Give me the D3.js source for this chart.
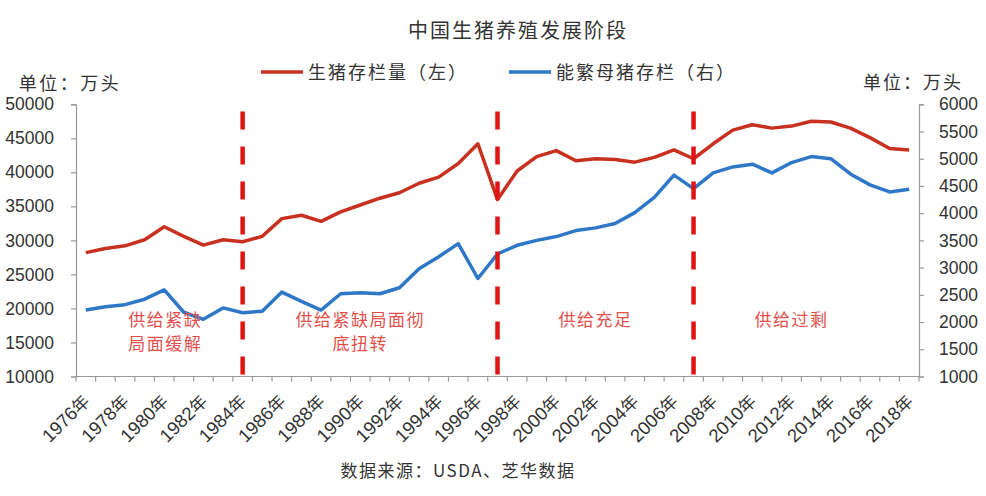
<!DOCTYPE html>
<html><head><meta charset="utf-8">
<script src="https://cdn.jsdelivr.net/npm/d3@7"></script>
<style>
html,body{margin:0;padding:0;background:#fff;}
svg{display:block;}
</style></head>
<body>
<svg id="chart" width="986" height="496"></svg>
<script>
const years = d3.range(1976, 2019).map(String);
const hogStock = [28200,28800,29200,30100,32000,30600,29300,30100,29800,30600,33200,33700,32800,34200,35200,36200,37000,38400,39300,41300,44200,36000,40200,42300,43200,41700,42000,41900,41500,42200,43300,42000,44200,46200,47000,46500,46800,47500,47400,46500,45100,43500,43300];
const sowStock = [2220,2280,2320,2420,2590,2180,2050,2260,2170,2200,2550,2380,2220,2520,2540,2520,2630,2980,3200,3440,2800,3250,3410,3500,3570,3680,3730,3810,4010,4290,4700,4450,4740,4850,4900,4740,4930,5040,5000,4720,4520,4390,4440];
const leftTicks = [10000,15000,20000,25000,30000,35000,40000,45000,50000];
const rightTicks = [1000,1500,2000,2500,3000,3500,4000,4500,5000,5500,6000];
const xLabelYears = years.filter((y,i)=>i%2===0);
const dividerYears = ["1984","1997","2007"];
const stageLabels = [
  {year:"1980", lines:["供给紧缺","局面缓解"]},
  {year:"1990", lines:["供给紧缺局面彻","底扭转"]},
  {year:"2002", lines:["供给充足"]},
  {year:"2012", lines:["供给过剩"]}
];
const title = "中国生猪养殖发展阶段";
const legendNames = ["生猪存栏量（左）","能繁母猪存栏（右）"];
const unitLabel = "单位：万头";
const sourceText = "数据来源：USDA、芝华数据";

const svg = d3.select("#chart");
const L = 76, R = 919, T = 104.3, B = 376.5;
const cjk = "'Noto Sans CJK SC', sans-serif";
const num = "'Liberation Sans', Arial, sans-serif";
const RED = "#c8311f", BLUE = "#2f78c8";

const x = d3.scaleBand().domain(years).range([L, R]).padding(0);
const yL = d3.scaleLinear().domain([10000, 50000]).range([B, T]);
const yR = d3.scaleLinear().domain([1000, 6000]).range([B, T]);
const cx = d => x(d) + x.bandwidth()/2;

// axes
const axL = svg.append("g").attr("transform", `translate(${L},0)`)
  .call(d3.axisLeft(yL).tickValues(leftTicks).tickSize(5).tickPadding(17).tickFormat(d3.format("d")));
const axR = svg.append("g").attr("transform", `translate(${R},0)`)
  .call(d3.axisRight(yR).tickValues(rightTicks).tickSize(5).tickPadding(15).tickFormat(d3.format("d")));
[axL, axR].forEach(a => {
  a.select(".domain").attr("stroke", "#999").attr("stroke-width", 1.2);
  a.selectAll(".tick line").attr("stroke", "#999").attr("stroke-width", 1.2);
  a.selectAll(".tick text").attr("font-family", num).attr("font-size", 17.5).attr("fill", "#333");
});

// x axis with ticks between categories
const xa = svg.append("g");
xa.append("line").attr("x1", L).attr("x2", R).attr("y1", B).attr("y2", B)
  .attr("stroke", "#999").attr("stroke-width", 1.2);
const bounds = years.map(d => x(d)).concat([R]);
xa.selectAll("line.tk").data(bounds).join("line").attr("class","tk")
  .attr("x1", d=>d).attr("x2", d=>d).attr("y1", B).attr("y2", B+5)
  .attr("stroke", "#999").attr("stroke-width", 1.2);
xa.selectAll("text").data(xLabelYears).join("text")
  .attr("transform", d => `translate(${cx(d)+5},${B+26}) rotate(-45)`)
  .attr("text-anchor", "end")
  .attr("font-size", 18.5).attr("fill", "#333")
  .each(function(d){
    const t = d3.select(this);
    t.append("tspan").attr("font-family", num).text(d);
    t.append("tspan").attr("font-family", cjk).attr("font-size", 17).text("年");
  });

// lines
const lineL = d3.line().x((d,i)=>cx(years[i])).y(d=>yL(d));
const lineR = d3.line().x((d,i)=>cx(years[i])).y(d=>yR(d));
svg.append("path").datum(hogStock).attr("d", lineL).attr("fill","none")
  .attr("stroke", RED).attr("stroke-width", 3.5).attr("stroke-linejoin","round");
svg.append("path").datum(sowStock).attr("d", lineR).attr("fill","none")
  .attr("stroke", BLUE).attr("stroke-width", 3.5).attr("stroke-linejoin","round");

// dividers
svg.selectAll("line.div").data(dividerYears).join("line").attr("class","div")
  .attr("x1", d=>cx(d)).attr("x2", d=>cx(d)).attr("y1", 111.5).attr("y2", B)
  .attr("stroke", "#e01414").attr("stroke-width", 4.5).attr("stroke-dasharray", "18,17");

// stage labels (one text element per line)
stageLabels.forEach(s => {
  s.lines.forEach((ln,i) => {
    svg.append("text").attr("x", cx(s.year) + (s.year==="1980"? 1 : 0))
      .attr("y", 326 + i*24)
      .attr("text-anchor","middle").attr("font-family", cjk).attr("font-size", 17)
      .attr("fill", "#e2504c").attr("letter-spacing", 1.5).text(ln);
  });
});

// title
svg.append("text").attr("x", 518).attr("y", 38).attr("text-anchor","middle")
  .attr("font-family", cjk).attr("font-size", 20).attr("letter-spacing", 2).attr("fill","#333").text(title);

// legend
const leg = [{x:261, c:RED, name:legendNames[0]},{x:509, c:BLUE, name:legendNames[1]}];
leg.forEach(l => {
  svg.append("line").attr("x1", l.x).attr("x2", l.x+42).attr("y1", 72).attr("y2", 72)
    .attr("stroke", l.c).attr("stroke-width", 3.5);
  svg.append("text").attr("x", l.x+47).attr("y", 78.5).attr("font-family", cjk)
    .attr("font-size", 18).attr("letter-spacing", 2).attr("fill","#333").text(l.name);
});

// units
svg.append("text").attr("x", 70).attr("y", 90).attr("text-anchor","middle")
  .attr("font-family", cjk).attr("font-size", 18).attr("letter-spacing", 2.5).attr("fill","#333").text(unitLabel);
svg.append("text").attr("x", 913).attr("y", 89).attr("text-anchor","middle")
  .attr("font-family", cjk).attr("font-size", 18).attr("letter-spacing", 2).attr("fill","#333").text(unitLabel);

// source
svg.append("text").attr("x", 458).attr("y", 477).attr("text-anchor","middle")
  .attr("font-family", cjk).attr("font-size", 17).attr("letter-spacing", 1.5).attr("fill","#333").text(sourceText);
</script>
</body></html>
